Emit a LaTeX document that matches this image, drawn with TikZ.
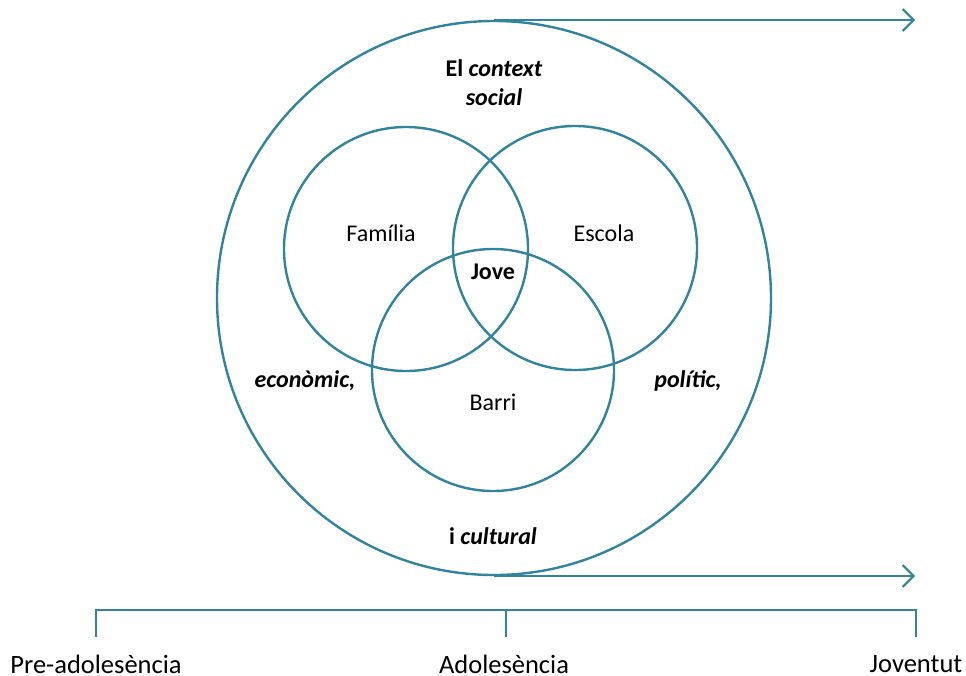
\documentclass[tikz,border=0pt]{standalone}
\usepackage{fontspec}
\setmainfont{Carlito}
\usetikzlibrary{arrows.meta}
\definecolor{teal1}{HTML}{31849B}
\begin{document}
\begin{tikzpicture}[x=1pt,y=-1pt,
  ring/.style={draw=teal1,line width=2.4pt},
  flow/.style={draw=teal1,line width=2.4pt,-{Straight Barb[length=11pt,width=22pt,line width=2pt]}},
  axis/.style={draw=teal1,line width=2.2pt},
  lbl/.style={font=\fontsize{24}{28}\selectfont,inner sep=0pt},
  stage/.style={font=\fontsize{26.5}{30}\selectfont,inner sep=0pt}]
\useasboundingbox (0,0) rectangle (966,675);
% context circle and its two time arrows
\draw[ring] (494,298) circle[radius=277];
\coordinate (ctop) at (494,20);
\coordinate (cbot) at (494,576);
\coordinate (atop) at (915,20);
\coordinate (abot) at (915,576);
\draw[flow] (ctop) -- (atop);
\draw[flow] (cbot) -- (abot);
% the three overlapping circles
\draw[ring] (406,249) circle[radius=122];
\draw[ring] (575,248) circle[radius=122];
\draw[ring] (493,370) circle[radius=121];
% labels
\node[lbl,align=center] (ctx) at (494,83) {\textbf{El \textit{context}}\\[1pt]\textbf{\textit{social}}};
\node[lbl] (fam) at (381,233) {Família};
\node[lbl] (esc) at (604,233) {Escola};
\node[lbl] (jove) at (493,272) {\textbf{Jove}};
\node[lbl] (barri) at (493,402) {Barri};
\node[lbl] (eco) at (305,381) {\textbf{\textit{econòmic,}}};
\node[lbl] (pol) at (688,381) {\textbf{\textit{polític,}}};
\node[lbl] (cult) at (493,536) {\textbf{i \textit{cultural}}};
% life-stage bracket
\coordinate (b1) at (96,610);
\coordinate (b2) at (506,610);
\coordinate (b3) at (916,610);
\coordinate (t1) at (96,637);
\coordinate (t2) at (506,637);
\coordinate (t3) at (916,637);
\draw[axis] (t1) -- (b1) -- (b3) -- (t3);
\draw[axis] (b2) -- (t2);
\node[stage] (pre) at (96,664) {Pre-adolesència};
\node[stage] (ado) at (504,664) {Adolesència};
\node[stage] (jov) at (916,664) {Joventut};
\end{tikzpicture}
\end{document}
